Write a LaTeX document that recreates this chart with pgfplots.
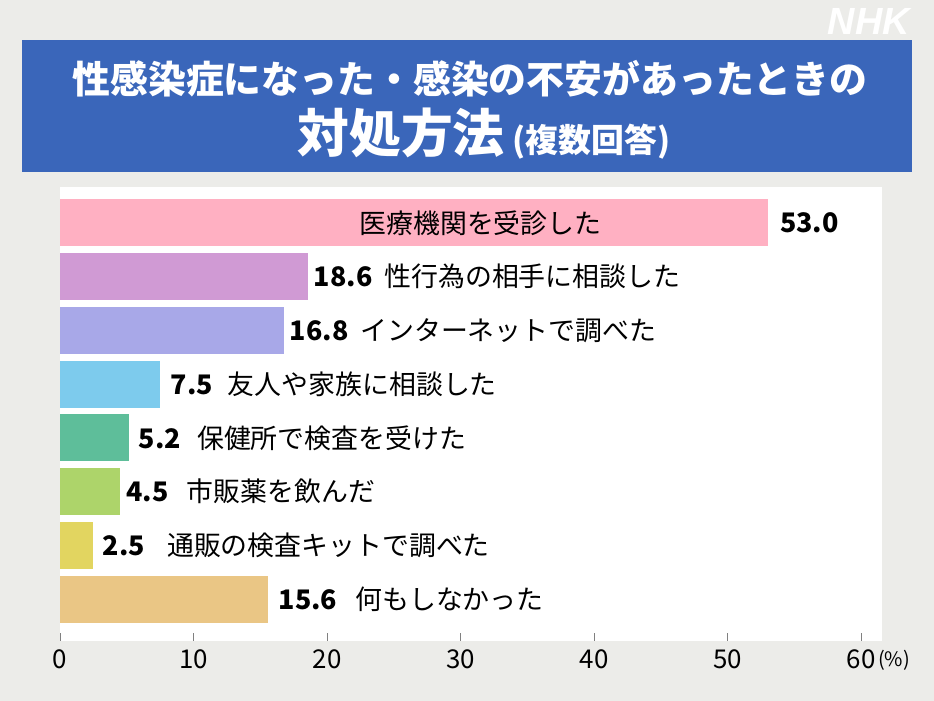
\documentclass[border=0pt]{standalone}
\usepackage{fontspec}
\setmainfont{Noto Sans CJK JP}
\newfontfamily\logofont{Liberation Sans}
\usepackage{pgfplots}
\pgfplotsset{compat=1.18}
\definecolor{bggray}{RGB}{236,236,233}
\definecolor{titleblue}{RGB}{58,102,186}
\definecolor{c1}{RGB}{255,176,194}
\definecolor{c2}{RGB}{208,154,212}
\definecolor{c3}{RGB}{168,168,232}
\definecolor{c4}{RGB}{125,203,237}
\definecolor{c5}{RGB}{94,190,154}
\definecolor{c6}{RGB}{173,212,106}
\definecolor{c7}{RGB}{226,213,96}
\definecolor{c8}{RGB}{234,198,133}
\newcommand{\lab}{\fontsize{27}{27}\selectfont}
\newcommand{\num}[1]{{\fontsize{27}{27}\selectfont\bfseries #1}}

\begin{document}
\begin{tikzpicture}[x=1bp,y=1bp]
\fill[bggray] (0,0) rectangle (934,701);
\fill[titleblue] (22,529) rectangle (912,661);
\node[white,font=\fontsize{38}{38}\selectfont\bfseries] at (470,622) {性感染症になった・感染の不安があったときの};
\node[white,font=\bfseries] at (484,567) {{\fontsize{52}{52}\selectfont 対処方法}\hspace{8bp}{\fontsize{33}{33}\selectfont (複数回答)}};
\node[white,font=\logofont\fontsize{38}{38}\selectfont\bfseries\itshape] at (869,680) {NHK};
\fill[white] (60,60) rectangle (882,514);

\begin{axis}[
    at={(60bp,60bp)}, anchor=south west,
    scale only axis, width=801bp, height=454bp,
    xbar, bar width=47bp, bar shift=0pt,
    xmin=0, xmax=60, ymin=-0.78, ymax=7.67,
    xtick={0,10,...,60}, ytick=\empty,
    xtick pos=bottom, xtick align=inside,
    major tick length=8bp,
    major tick style={gray, line width=0.8bp},
    axis line style={draw=none},
    /pgf/number format/assume math mode=true,
    xticklabel style={font=\fontsize{26}{26}\selectfont, yshift=-5bp},
    clip=false,
]
\addplot[fill=c1, draw=none] coordinates {(53.0,7)};
\addplot[fill=c2, draw=none] coordinates {(18.6,6)};
\addplot[fill=c3, draw=none] coordinates {(16.8,5)};
\addplot[fill=c4, draw=none] coordinates {(7.5,4)};
\addplot[fill=c5, draw=none] coordinates {(5.2,3)};
\addplot[fill=c6, draw=none] coordinates {(4.5,2)};
\addplot[fill=c7, draw=none] coordinates {(2.5,1)};
\addplot[fill=c8, draw=none] coordinates {(15.6,0)};

\node[font=\lab] at (axis cs:31.5,7) {医療機関を受診した};
\node[anchor=west, xshift=9bp] at (axis cs:53.0,7) {\num{53.0}};
\node[anchor=west, xshift=2bp] at (axis cs:18.6,6) {\num{18.6}\hspace{12bp}{\lab 性行為の相手に相談した}};
\node[anchor=west, xshift=2bp] at (axis cs:16.8,5) {\num{16.8}\hspace{12bp}{\lab インターネットで調べた}};
\node[anchor=west, xshift=7bp] at (axis cs:7.5,4) {\num{7.5}\hspace{15bp}{\lab 友人や家族に相談した}};
\node[anchor=west, xshift=6bp] at (axis cs:5.2,3) {\num{5.2}\hspace{16bp}{\lab 保健所で検査を受けた}};
\node[anchor=west, xshift=3bp] at (axis cs:4.5,2) {\num{4.5}\hspace{18bp}{\lab 市販薬を飲んだ}};
\node[anchor=west, xshift=6bp] at (axis cs:2.5,1) {\num{2.5}\hspace{22bp}{\lab 通販の検査キットで調べた}};
\node[anchor=west, xshift=7bp] at (axis cs:15.6,0) {\num{15.6}\hspace{18bp}{\lab 何もしなかった}};
\node[anchor=west, font=\fontsize{20}{20}\selectfont, inner sep=0pt] at ([xshift=17bp,yshift=-19bp]axis cs:60,-0.78) {(\%)};
\end{axis}
\pgfresetboundingbox
\useasboundingbox (0,0) rectangle (934,701);
\end{tikzpicture}
\end{document}
